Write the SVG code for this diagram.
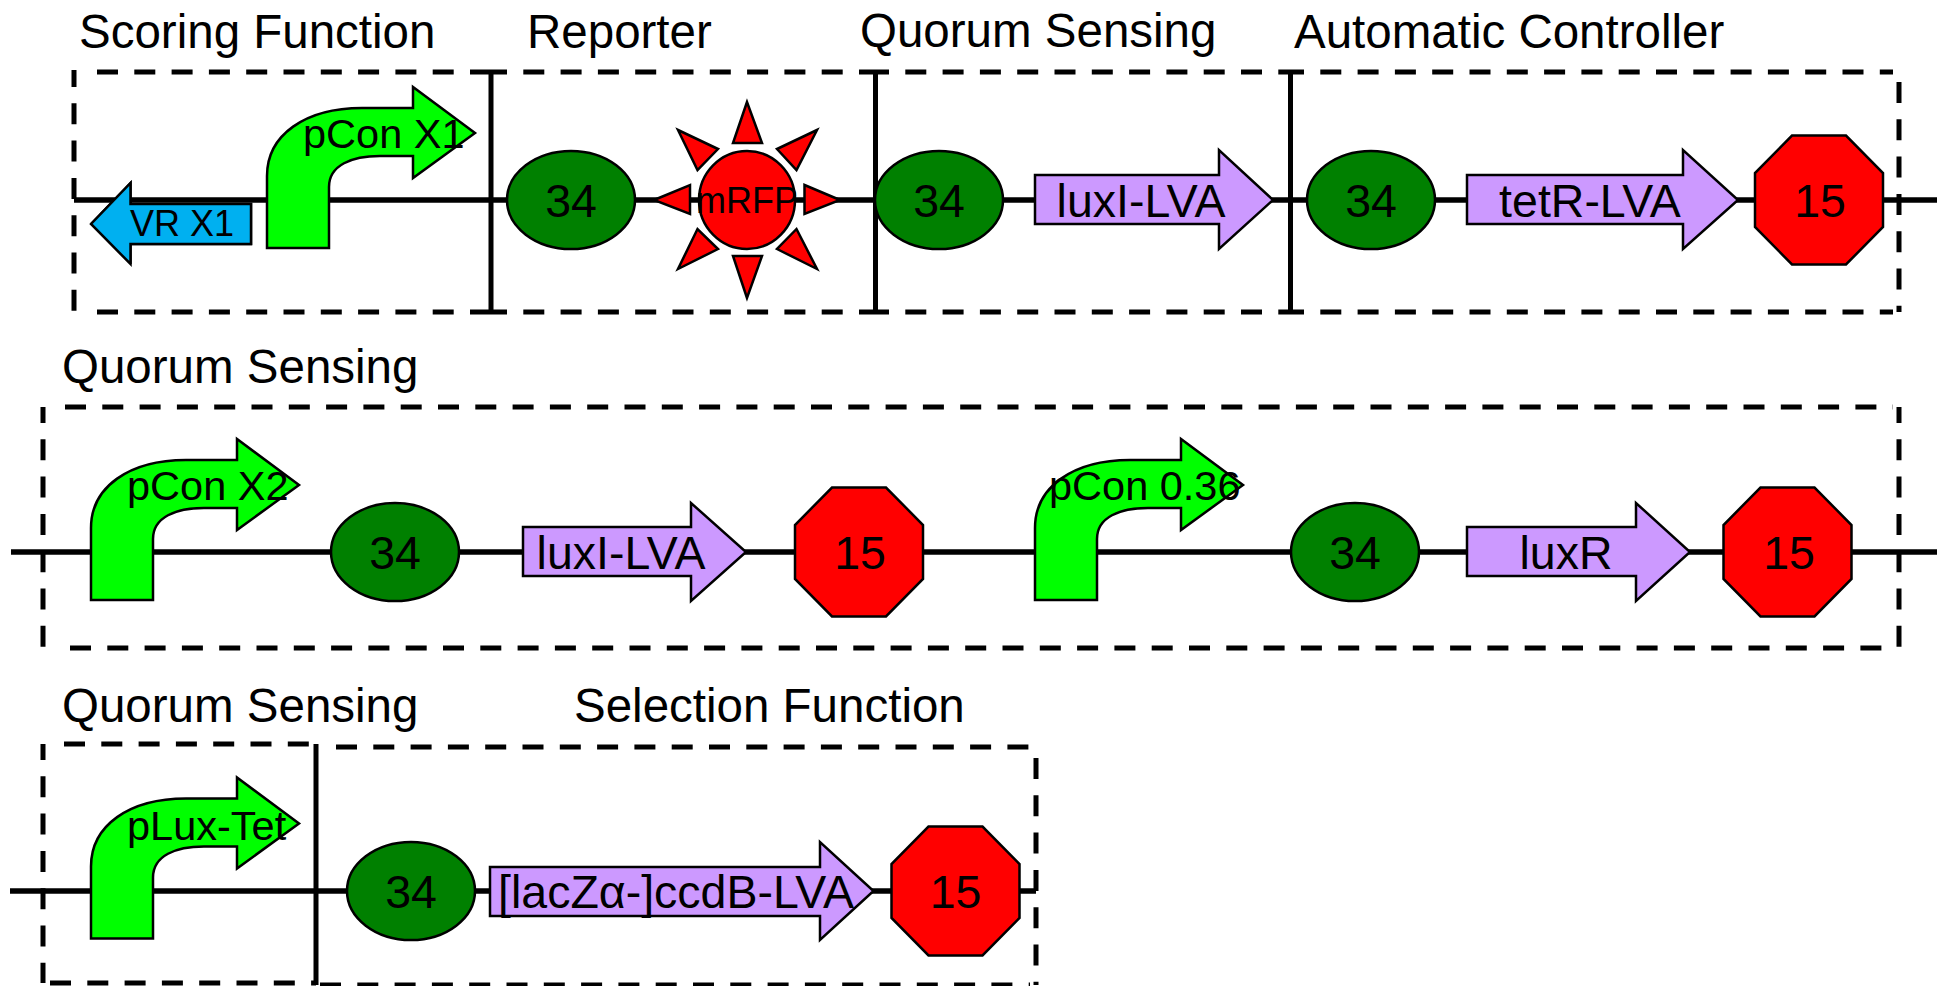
<svg xmlns="http://www.w3.org/2000/svg" xmlns:xlink="http://www.w3.org/1999/xlink" width="1937" height="986" viewBox="0 0 1937 986">
<style>
text{font-family:"Liberation Sans",Arial,sans-serif;fill:#000}
.t{font-size:47.5px}
.n{font-size:46.5px;text-anchor:middle}
.p{font-size:41.5px}
.d{fill:none;stroke:#000;stroke-width:5;stroke-dasharray:21 16.3}
.s{fill:none;stroke:#000;stroke-width:5}
.b{fill:none;stroke:#000;stroke-width:5.5}
.rbs{fill:#008000;stroke:#000;stroke-width:2.5}
.stop{fill:#f00;stroke:#000;stroke-width:2.5}
.cds{fill:#c9f;stroke:#000;stroke-width:2.5}
.prom{fill:#0f0;stroke:#000;stroke-width:2.5}
.ray{fill:#f00;stroke:#000;stroke-width:2.5}
</style>
<defs>
<path id="promoter" d="M267,248 L267,176 C267,135 305,108 362,108 L413,108 L413,87 L475,133 L413,178 L413,156 L380,156 C352,156 329,165 329,187 L329,248 Z"/>
<ellipse id="rbsShape" rx="64" ry="49"/>
<polygon id="stopShape" points="-27,-64.5 27,-64.5 64,-27 64,27 27,64.5 -27,64.5 -64,27 -64,-27"/>
</defs>
<g id="frames">
<path class="d" d="M97 72H491M486 72H875M868 72H1291M1283 72H1893"/>
<path class="d" d="M97 312H491M486 312H875M868 312H1291M1283 312H1893"/>
<path class="d" d="M74 70V312" stroke-dashoffset="4"/>
<path class="d" d="M1899 82V312"/>
<path class="s" d="M491 70V314M875.500 70V314M1290.500 70V314"/>
<path class="d" d="M65 407H1893"/>
<path class="d" d="M70 648H1882"/>
<path class="d" d="M43 407V648" stroke-dashoffset="5"/>
<path class="d" d="M1899 407V648" stroke-dashoffset="5"/>
<path class="d" d="M64 744H316"/>
<path class="d" d="M43 744V983" stroke-dashoffset="5"/>
<path class="d" d="M50 983H316"/>
<path class="s" d="M316 744V985"/>
<path class="d" d="M336 747H1030"/>
<path class="d" d="M320 985H1030"/>
<path class="d" d="M1036 758V985"/>
</g>
<g id="connectors">
<path class="b" d="M74 200H1937"/>
<path class="b" d="M11 552H1937"/>
<path class="b" d="M10 891H1036"/>
</g>
<g id="labels">
<text class="t" x="79" y="48">Scoring Function</text>
<text class="t" x="527" y="48">Reporter</text>
<text class="t" x="860" y="47">Quorum Sensing</text>
<text class="t" x="1294" y="48">Automatic Controller</text>
<text class="t" x="62" y="383">Quorum Sensing</text>
<text class="t" x="62" y="722">Quorum Sensing</text>
<text class="t" x="574" y="722">Selection Function</text>
</g>
<g id="vr-x1">
<polygon points="91,224 130.500,183 130.500,264 130.500,244 251,244 251,204 130.500,204" fill="#00b0f0" stroke="#000" stroke-width="2.500"/>
<polygon points="91,224 130.500,183 130.500,204 251,204 251,244 130.500,244 130.500,264" fill="#00b0f0" stroke="#000" stroke-width="2.500"/>
<text x="130" y="236" font-size="36">VR X1</text>
</g>
<g id="pcon-x1"><use xlink:href="#promoter" href="#promoter" class="prom"/><text class="p" x="303" y="148">pCon X1</text></g>
<g id="rbs-1"><use href="#rbsShape" class="rbs" x="571" y="200"/><text class="n" x="571" y="217">34</text></g>
<g id="mrfp">
<ellipse class="ray" cx="747" cy="200" rx="48" ry="49"/>
<polygon class="ray" points="747,102 733,143 762,143"/>
<polygon class="ray" points="747,298 733,256 762,256"/>
<polygon class="ray" points="654,200 690,185 690,214"/>
<polygon class="ray" points="840,200 804.500,185 804.500,214"/>
<polygon class="ray" points="678,130 718,149 697.500,170"/>
<polygon class="ray" points="817,130 777,149 796.500,170"/>
<polygon class="ray" points="678,269 718,249 697.500,229"/>
<polygon class="ray" points="817,269 777,249 796.500,229"/>
<text x="747" y="213" font-size="36" text-anchor="middle">mRFP</text>
</g>
<g id="rbs-2"><use href="#rbsShape" class="rbs" x="939" y="200"/><text class="n" x="939" y="217">34</text></g>
<g id="luxi-1"><polygon class="cds" points="1035,175 1219,175 1219,150 1273,200 1219,249 1219,224 1035,224"/><text class="n" x="1141" y="217">luxI-LVA</text></g>
<g id="rbs-3"><use href="#rbsShape" class="rbs" x="1371" y="200"/><text class="n" x="1371" y="217">34</text></g>
<g id="tetr"><polygon class="cds" points="1467,175 1683,175 1683,150 1738,200 1683,249 1683,224 1467,224"/><text class="n" x="1590" y="217">tetR-LVA</text></g>
<g id="stop-1"><use href="#stopShape" class="stop" x="1819" y="200"/><text class="n" x="1820" y="217">15</text></g>

<g id="pcon-x2"><use href="#promoter" class="prom" transform="translate(-176 352)"/><text class="p" x="127" y="500">pCon X2</text></g>
<g id="rbs-4"><use href="#rbsShape" class="rbs" x="395" y="552"/><text class="n" x="395" y="569">34</text></g>
<g id="luxi-2"><polygon class="cds" points="523,527 691,527 691,503 746,552 691,601 691,576 523,576"/><text class="n" x="621" y="569">luxI-LVA</text></g>
<g id="stop-2"><use href="#stopShape" class="stop" x="859" y="552"/><text class="n" x="860" y="569">15</text></g>
<g id="pcon-036"><use href="#promoter" class="prom" transform="translate(768 352)"/><text class="p" x="1049" y="500">pCon 0.36</text></g>
<g id="rbs-5"><use href="#rbsShape" class="rbs" x="1355" y="552"/><text class="n" x="1355" y="569">34</text></g>
<g id="luxr"><polygon class="cds" points="1467,527 1636,527 1636,503 1690,552 1636,601 1636,576 1467,576"/><text class="n" x="1566" y="569">luxR</text></g>
<g id="stop-3"><use href="#stopShape" class="stop" x="1787.500" y="552"/><text class="n" x="1789" y="569">15</text></g>

<g id="plux-tet"><use href="#promoter" class="prom" transform="translate(-176 690.500)"/><text class="p" x="127" y="840">pLux-Tet</text></g>
<g id="rbs-6"><use href="#rbsShape" class="rbs" x="411" y="891"/><text class="n" x="411" y="908">34</text></g>
<g id="ccdb"><polygon class="cds" points="490,867 820,867 820,842 873.500,891 820,940 820,916 490,916"/><text class="n" x="676" y="908">[lacZα-]ccdB-LVA</text></g>
<g id="stop-4"><use href="#stopShape" class="stop" x="955.500" y="891"/><text class="n" x="955.500" y="908">15</text></g>
</svg>
